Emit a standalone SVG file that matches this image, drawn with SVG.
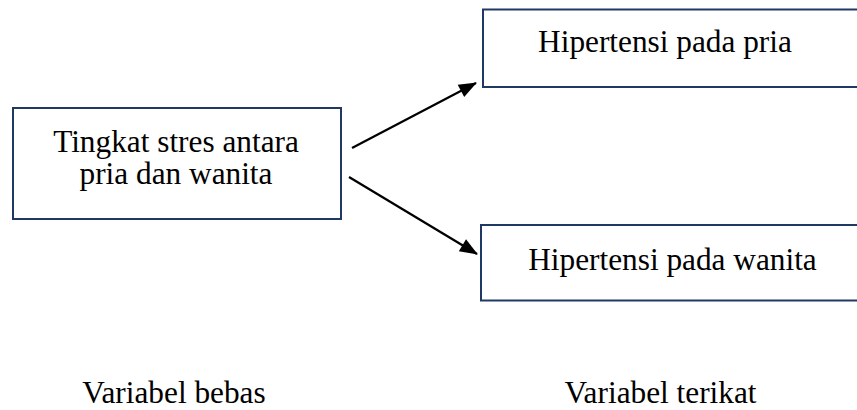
<svg xmlns="http://www.w3.org/2000/svg" width="857" height="410" viewBox="0 0 857 410">
<style>
.box{fill:#fff;stroke:#1f3864;stroke-width:2}
.t{font-family:"Liberation Serif","Times New Roman",serif;font-size:31.3px;fill:#000;text-anchor:middle}
.c{stroke:#000;stroke-width:2.2;fill:none}
</style>
<defs>
<marker id="ah" viewBox="0 0 18 14" refX="17" refY="7" markerWidth="18" markerHeight="14" markerUnits="userSpaceOnUse" orient="auto" overflow="visible">
<path d="M0,0 L18,7 L0,14 z" fill="#000"/>
</marker>
</defs>
<rect width="857" height="410" fill="#fff"/>
<g id="connectors">
<line class="c" x1="352" y1="148" x2="476" y2="83" marker-end="url(#ah)"/>
<line class="c" x1="349" y1="177" x2="477" y2="254" marker-end="url(#ah)"/>
</g>
<g id="node-stres">
<rect class="box" x="13" y="108" width="328" height="111"/>
<text class="t" x="176" y="152">Tingkat stres antara</text>
<text class="t" x="176" y="184">pria dan wanita</text>
</g>
<g id="node-pria">
<rect class="box" x="483" y="9.5" width="390" height="77.5"/>
<text class="t" x="665" y="52">Hipertensi pada pria</text>
</g>
<g id="node-wanita">
<rect class="box" x="481" y="225" width="392" height="75.5"/>
<text class="t" x="672.5" y="270">Hipertensi pada wanita</text>
</g>
<g id="label-bebas">
<text class="t" x="174" y="403">Variabel bebas</text>
</g>
<g id="label-terikat">
<text class="t" x="660.5" y="403">Variabel terikat</text>
</g>
</svg>
